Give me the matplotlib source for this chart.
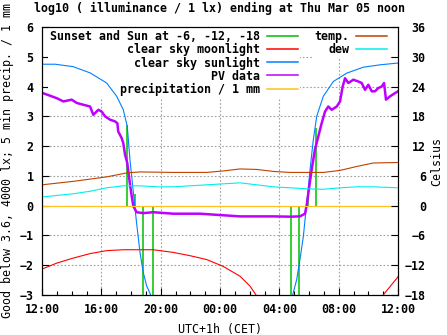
import matplotlib.pyplot as plt
from matplotlib.lines import Line2D

plt.rcParams['font.family'] = 'DejaVu Sans Mono'
plt.rcParams['font.weight'] = 'bold'
plt.rcParams['font.size'] = 8.4

nan = float('nan')

# time axis: hours after 12:00 (Mar 04)
tick_hours = [0, 4, 8, 12, 16, 20, 24]
tick_labels = ['12:00', '16:00', '20:00', '00:00', '04:00', '08:00', '12:00']

# sunset / sun at -6, -12, -18 (and the same in the morning)
sun_h = [5.71, 6.27, 6.83, 7.5, 16.77, 17.35, 17.91, 18.5]
sun_v = [2.7, 0.4, -4.0, -4.0, -4.0, -4.0, 0.25, 2.6]

# clear sky moonlight
moon_h = [0, 0.99, 2.11, 3.24, 4.36, 5.48, 7.5, 8.85, 9.98, 11.1, 12.22, 13.35,
          14.02, 14.43, 14.6, 14.7, 22.8, 23.0, 24.0]
moon_v = [-2.13, -1.93, -1.76, -1.61, -1.51, -1.48, -1.48, -1.57, -1.68, -1.81,
          -2.04, -2.37, -2.7, -3.0, -3.3, nan, -3.3, -3.0, -2.39]

# clear sky sunlight
sunl_h = [0, 0.88, 2.09, 3.24, 4.36, 5.04, 5.48, 5.75, 5.93, 6.16, 6.38, 6.61,
          6.83, 7.06, 7.33, 7.6, 16.6, 16.9, 17.17, 17.39, 17.62, 17.8, 17.95,
          18.07, 18.29, 18.52, 18.96, 19.64, 20.54, 21.66, 22.79, 24.0]
sunl_v = [4.75, 4.75, 4.67, 4.46, 4.12, 3.67, 3.22, 2.66, 1.54, 0.44, -0.6, -1.58,
          -2.25, -2.7, -3.0, -3.5, -3.5, -3.0, -2.48, -1.81, -1.03, -0.13, 0.6,
          1.21, 2.21, 3.0, 3.67, 4.17, 4.45, 4.65, 4.73, 4.79]

# PV data
pv_h = [0.05, 0.5, 0.99, 1.44, 2.0, 2.34, 2.78, 3.24, 3.46, 3.8, 4.02, 4.25, 4.58,
        4.92, 5.08, 5.14, 5.37, 5.48, 5.6, 5.75, 5.89, 6.05, 6.16, 6.38, 6.83, 7.5,
        8.85, 10.65, 11.55, 13.35, 15.59, 16.72, 17.39, 17.73, 17.85, 18.02, 18.18,
        18.4, 18.63, 18.86, 19.08, 19.3, 19.53, 19.87, 20.09, 20.27, 20.43, 20.65,
        20.99, 21.32, 21.55, 21.78, 22.0, 22.23, 22.45, 22.67, 22.9, 23.06, 23.19,
        23.46, 23.8, 24.0]
pv_v = [3.78, 3.7, 3.61, 3.5, 3.56, 3.45, 3.39, 3.33, 3.05, 3.22, 3.16, 3.0, 2.89,
        2.83, 2.77, 2.49, 2.27, 2.1, 1.71, 1.43, 0.87, 0.31, -0.02, -0.22, -0.25,
        -0.22, -0.27, -0.27, -0.3, -0.36, -0.36, -0.37, -0.36, -0.27, 0.03, 0.65,
        1.21, 1.88, 2.33, 2.78, 3.16, 3.33, 3.22, 3.33, 3.5, 4.0, 4.28, 4.12, 4.23,
        4.17, 4.12, 3.89, 4.06, 3.84, 3.84, 3.95, 4.0, 4.12, 3.56, 3.67, 3.78, 3.84]

# precipitation / 1 mm
prec_h = [0, 24]
prec_v = [0, 0]

# temperature and dew point, Celsius
temp_h = [0, 2.11, 4.36, 5.71, 6.61, 8.85, 11.1, 12.22, 13.35, 14.48, 15.59, 16.72,
          18.97, 20.09, 21.22, 22.34, 24.0]
temp_c = [4.2, 4.9, 5.8, 6.6, 6.8, 6.7, 6.7, 7.0, 7.4, 7.3, 6.9, 6.7, 6.7, 7.1, 7.9,
          8.6, 8.7]
dew_h = [0, 2.11, 3.24, 4.36, 5.48, 6.61, 7.73, 8.85, 9.98, 11.1, 12.22, 13.35,
         14.48, 15.59, 17.84, 18.97, 20.09, 21.22, 22.34, 24.0]
dew_c = [1.75, 2.4, 2.9, 3.6, 4.0, 4.0, 3.8, 3.8, 4.0, 4.2, 4.4, 4.6, 4.2, 3.8, 3.4,
         3.3, 3.6, 3.8, 3.8, 3.6]

c_green = '#00c000'
c_red = '#ff0000'
c_blue = '#0080ff'
c_purple = '#c000ff'
c_orange = '#ffc020'
c_brown = '#c04000'
c_cyan = '#00eeee'

fig = plt.figure(figsize=(4.47, 3.35), dpi=100)
ax = fig.add_axes([42 / 447, 1 - 295 / 335, 356 / 447, 268 / 335])
ax.set_axisbelow(True)

ax.vlines(sun_h, 0, sun_v, color=c_green, lw=1.1, zorder=2)
ax.plot(moon_h, moon_v, color=c_red, lw=0.8, zorder=2)
ax.plot(sunl_h, sunl_v, color=c_blue, lw=0.8, zorder=2)
ax.plot(pv_h, pv_v, color=c_purple, lw=1.8, zorder=2)
ax.plot(prec_h, prec_v, color=c_orange, lw=0.8, zorder=2)

ax.set_xlim(0, 24)
ax.set_ylim(-3, 6)
ax.set_xticks(tick_hours)
ax.set_xticklabels(tick_labels)
ax.set_xticks(range(25), minor=True)
ax.set_yticks(range(-3, 7))
ax.tick_params(direction='in', length=5, width=0.8, pad=6, top=False, right=False)
ax.tick_params(axis='x', which='minor', direction='in', length=3, width=0.8, top=False)
ax.grid(True, color='#a0a0a0', lw=0.8, linestyle=(0, (1.5, 1.8)))
for s in ax.spines.values():
    s.set_linewidth(0.8)

ax.set_title('log10 ( illuminance / 1 lx) ending at Thu Mar 05 noon', fontsize=8.4,
             fontweight='bold', pad=11)
ax.set_xlabel('UTC+1h (CET)', labelpad=5)
ax.set_ylabel('Good below 3.6, 4000 lx; 5 min precip. / 1 mm', labelpad=4)

ax2 = ax.twinx()
ax2.plot(temp_h, temp_c, color=c_brown, lw=0.8)
ax2.plot(dew_h, dew_c, color=c_cyan, lw=0.8)
ax2.set_ylim(-18, 36)
ax2.set_yticks(range(-18, 37, 6))
ax2.tick_params(direction='in', length=5, width=0.8, pad=20)
for lab in ax2.get_yticklabels():
    lab.set_horizontalalignment('right')
ax2.set_ylabel('Celsius', labelpad=3)
for s in ax2.spines.values():
    s.set_linewidth(0.8)

h1 = [Line2D([], [], color=c_green, lw=1.1),
      Line2D([], [], color=c_red, lw=1.1),
      Line2D([], [], color=c_blue, lw=1.1),
      Line2D([], [], color=c_purple, lw=1.1),
      Line2D([], [], color=c_orange, lw=1.1)]
l1 = ['Sunset and Sun at -6, -12, -18', 'clear sky moonlight', 'clear sky sunlight',
      'PV data', 'precipitation / 1 mm']
h2 = [Line2D([], [], color=c_brown, lw=1.1), Line2D([], [], color=c_cyan, lw=1.1)]
l2 = ['temp.', 'dew']

leg_style = dict(loc='upper right', bbox_transform=fig.transFigure, markerfirst=False,
                 frameon=True, facecolor='white', edgecolor='none', framealpha=1,
                 fancybox=False, borderpad=0.2, handlelength=2.6, handletextpad=0.6,
                 labelspacing=0.0, borderaxespad=0)
leg1 = ax.legend(h1, l1, bbox_to_anchor=(300 / 447, 1 - 28 / 335), **leg_style)
leg1.set_zorder(1)
ax.add_artist(leg1)
leg2 = ax.legend(h2, l2, bbox_to_anchor=(389 / 447, 1 - 28 / 335), **leg_style)
leg2.set_zorder(1)

fig.savefig('out.png', dpi=100)
